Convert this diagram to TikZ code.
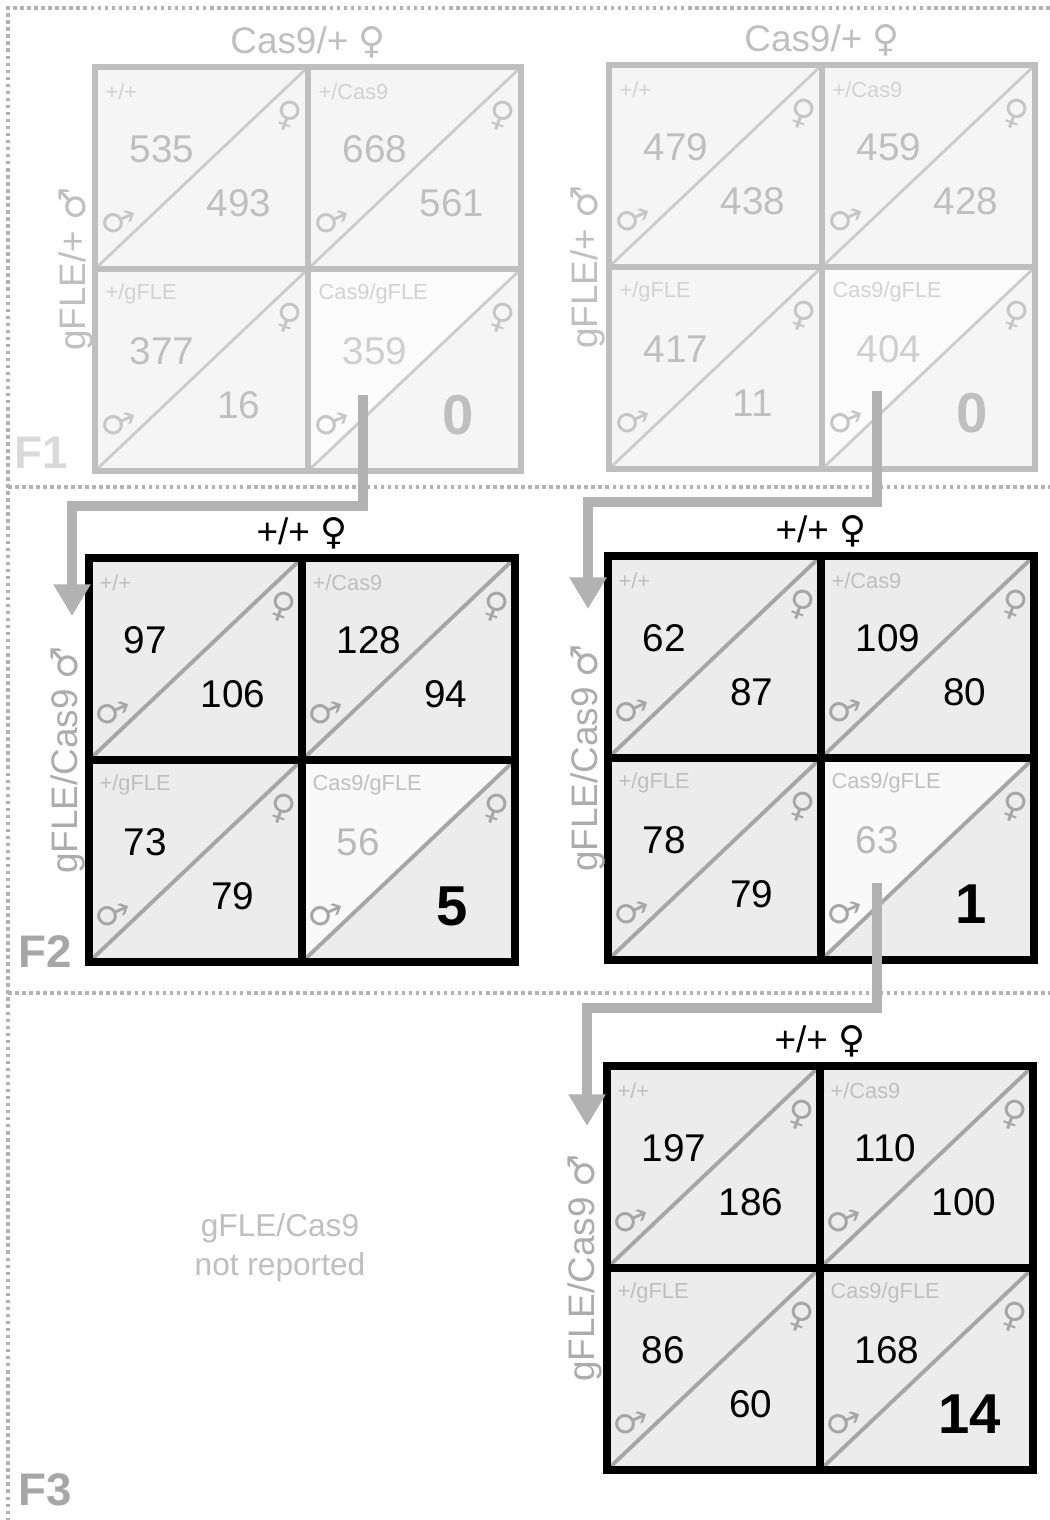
\documentclass[tikz,border=0pt]{standalone}
\usepackage{fontspec}
\setmainfont{Liberation Sans}
\newfontfamily\sexfont{DejaVu Sans}
\usepackage{tikz}
\usetikzlibrary{positioning, calc, arrows.meta}

\newcommand{\femsym}{{\sexfont ♀}}
\newcommand{\malesym}{{\sexfont ♂}}

% one square of a cross: placement, name, genotype, male count, female count, female style
\newcommand{\pcell}[6]{%
    \node[cellbox, #1] (#2) {};
    \fill[uptri] (#2.south west) -- (#2.north west) -- (#2.north east) -- cycle;
    \draw[diag] (#2.south west) -- (#2.north east);
    \draw[cellframe] (#2.south west) rectangle (#2.north east);
    \node[geno] (#2-gt) at ($(#2.north west)+(0.10,-0.25)$) {#3};
    \node[mcount, anchor=west] (#2-m) at ($(#2.north west)+(0.34,-0.82)$) {#4};
    \node[#6] (#2-f) at ($(#2.north west)+(1.44,-1.36)$) {#5};
    \node[sexsym] (#2-fs) at ($(#2.north east)+(-0.20,-0.49)$) {\femsym};
    \node[sexsym] (#2-ms) at ($(#2.south west)+(0.23,0.48)$) {\malesym};
}

\begin{document}
\begin{tikzpicture}[
    cellbox/.style={fill=gray!15, minimum width=2.13cm, minimum height=2.02cm, inner sep=0pt, outer sep=0pt},
    cellframe/.style={draw=black, line width=2pt},
    uptri/.style={fill=gray!15},
    diag/.style={draw=gray!70, line width=1.1pt},
    geno/.style={text=gray!50, font=\fontsize{6.2}{8}\selectfont, inner sep=0pt, anchor=west},
    mcount/.style={font=\fontsize{11}{13}\selectfont, inner sep=0pt},
    fcount/.style={font=\fontsize{11}{13}\selectfont, inner sep=0pt},
    bigcount/.style={font=\fontsize{16}{18}\selectfont\bfseries, inner sep=0pt, xshift=0.06cm, yshift=-0.10cm},
    sexsym/.style={text=gray!70, font=\fontsize{10}{12}\sexfont, rotate=-20, inner sep=0pt},
    crosslabel/.style={font=\fontsize{10.5}{12}\selectfont, inner sep=0pt},
    sidelabel/.style={crosslabel, text=gray!65, rotate=90},
    genlabel/.style={font=\fontsize{13}{15}\selectfont\bfseries, text=gray!70},
    passarrow/.style={draw=gray!60, line width=3pt, -{Triangle[width=10pt,length=9pt]}},
    divider/.style={draw=gray!60, densely dotted, line width=1pt}
]
    \useasboundingbox (0,0) rectangle (10.5,15.2);
    \fill[white] (0,0) rectangle (10.5,15.2);

    % --- FRAME AND GENERATION DIVIDERS ---
    \draw[divider] (10.5,15.12) -- (0.08,15.12) -- (0.08,0);
    \draw[divider] (0.08,10.33) -- (10.5,10.33);
    \draw[divider] (0.08,5.27) -- (10.5,5.27);

    % --- F1: CAS9/+ FEMALES x GFLE/+ MALES ---
    \begin{scope}[
        cellbox/.append style={fill=gray!8},
        cellframe/.append style={draw=gray!50, line width=1.7pt},
        uptri/.style={fill=gray!8},
        diag/.append style={draw=gray!40, line width=0.8pt},
        mcount/.append style={text=gray!50},
        fcount/.append style={text=gray!50},
        bigcount/.append style={text=gray!50},
        geno/.append style={text=gray!35},
        sexsym/.append style={text=gray!45},
        crosslabel/.append style={text=gray!50},
        sidelabel/.append style={text=gray!50},
        genlabel/.append style={text=gray!30}
    ]
        % Left cross
        \pcell{at={(0.95,14.53)}, anchor=north west}{A-pp}{+/+}{535}{493}{fcount}
        \pcell{right=0cm of A-pp}{A-pc}{+/Cas9}{668}{561}{fcount}
        \pcell{below=0cm of A-pp}{A-pg}{+/gFLE}{377}{16}{fcount}
        \begin{scope}[uptri/.style={fill=gray!3}, mcount/.append style={text=gray!38}]
            \pcell{right=0cm of A-pg}{A-cg}{Cas9/gFLE}{359}{0}{bigcount}
        \end{scope}
        \node[crosslabel, above=0.08cm of A-pp.north east] (A-top) {Cas9/+ \femsym};
        \node[sidelabel] (A-side) at ($(A-pp.south west)+(-0.19,0)$) {gFLE/+ \malesym};

        % Right cross
        \pcell{at={(6.09,14.55)}, anchor=north west}{B-pp}{+/+}{479}{438}{fcount}
        \pcell{right=0cm of B-pp}{B-pc}{+/Cas9}{459}{428}{fcount}
        \pcell{below=0cm of B-pp}{B-pg}{+/gFLE}{417}{11}{fcount}
        \begin{scope}[uptri/.style={fill=gray!3}, mcount/.append style={text=gray!38}]
            \pcell{right=0cm of B-pg}{B-cg}{Cas9/gFLE}{404}{0}{bigcount}
        \end{scope}
        \node[crosslabel, above=0.08cm of B-pp.north east] (B-top) {Cas9/+ \femsym};
        \node[sidelabel] (B-side) at ($(B-pp.south west)+(-0.21,0)$) {gFLE/+ \malesym};

        \node[genlabel] (F1) at (0.41,10.67) {F1};
    \end{scope}

    % --- F2: +/+ FEMALES x GFLE/CAS9 MALES ---
    \pcell{at={(0.89,9.62)}, anchor=north west}{C-pp}{+/+}{97}{106}{fcount}
    \pcell{right=0cm of C-pp}{C-pc}{+/Cas9}{128}{94}{fcount}
    \pcell{below=0cm of C-pp}{C-pg}{+/gFLE}{73}{79}{fcount}
    \begin{scope}[uptri/.style={fill=gray!5}, mcount/.append style={text=gray!55}]
        \pcell{right=0cm of C-pg}{C-cg}{Cas9/gFLE}{56}{5}{bigcount}
    \end{scope}
    \node[crosslabel, above=0.08cm of C-pp.north east] (C-top) {+/+ \femsym};
    \node[sidelabel] (C-side) at ($(C-pp.south west)+(-0.21,0)$) {gFLE/Cas9 \malesym};

    \pcell{at={(6.08,9.64)}, anchor=north west}{D-pp}{+/+}{62}{87}{fcount}
    \pcell{right=0cm of D-pp}{D-pc}{+/Cas9}{109}{80}{fcount}
    \pcell{below=0cm of D-pp}{D-pg}{+/gFLE}{78}{79}{fcount}
    \begin{scope}[uptri/.style={fill=gray!5}, mcount/.append style={text=gray!55}]
        \pcell{right=0cm of D-pg}{D-cg}{Cas9/gFLE}{63}{1}{bigcount}
    \end{scope}
    \node[crosslabel, above=0.08cm of D-pp.north east] (D-top) {+/+ \femsym};
    \node[sidelabel] (D-side) at ($(D-pp.south west)+(-0.20,0)$) {gFLE/Cas9 \malesym};

    \node[genlabel] (F2) at (0.45,5.68) {F2};

    % --- F3 ---
    \pcell{at={(6.07,4.54)}, anchor=north west}{E-pp}{+/+}{197}{186}{fcount}
    \pcell{right=0cm of E-pp}{E-pc}{+/Cas9}{110}{100}{fcount}
    \pcell{below=0cm of E-pp}{E-pg}{+/gFLE}{86}{60}{fcount}
    \pcell{right=0cm of E-pg}{E-cg}{Cas9/gFLE}{168}{14}{bigcount}
    \node[crosslabel, above=0.08cm of E-pp.north east] (E-top) {+/+ \femsym};
    \node[sidelabel] (E-side) at ($(E-pp.south west)+(-0.22,0)$) {gFLE/Cas9 \malesym};

    \node[crosslabel, text=gray!50, align=center, font=\fontsize{9}{11}\selectfont] (F3-note) at (2.80,2.72) {gFLE/Cas9\\not reported};
    \node[genlabel] (F3) at (0.45,0.30) {F3};

    % --- CROSSING ARROWS ---
    \coordinate (A-out) at ($(A-cg.south west)+(0.55,0.76)$);
    \coordinate (B-out) at ($(B-cg.south west)+(0.55,0.78)$);
    \coordinate (D-out) at ($(D-cg.south west)+(0.56,0.77)$);
    \coordinate (C-in) at ($(C-pp.north west)+(-0.17,-0.58)$);
    \coordinate (D-in) at ($(D-pp.north west)+(-0.20,-0.53)$);
    \coordinate (E-in) at ($(E-pp.north west)+(-0.20,-0.60)$);
    \draw[passarrow] (A-out) |- ($(C-in)+(0,1.10)$) -- (C-in);
    \draw[passarrow] (B-out) |- ($(D-in)+(0,1.07)$) -- (D-in);
    \draw[passarrow] (D-out) |- ($(E-in)+(0,1.18)$) -- (E-in);

\end{tikzpicture}
\end{document}
